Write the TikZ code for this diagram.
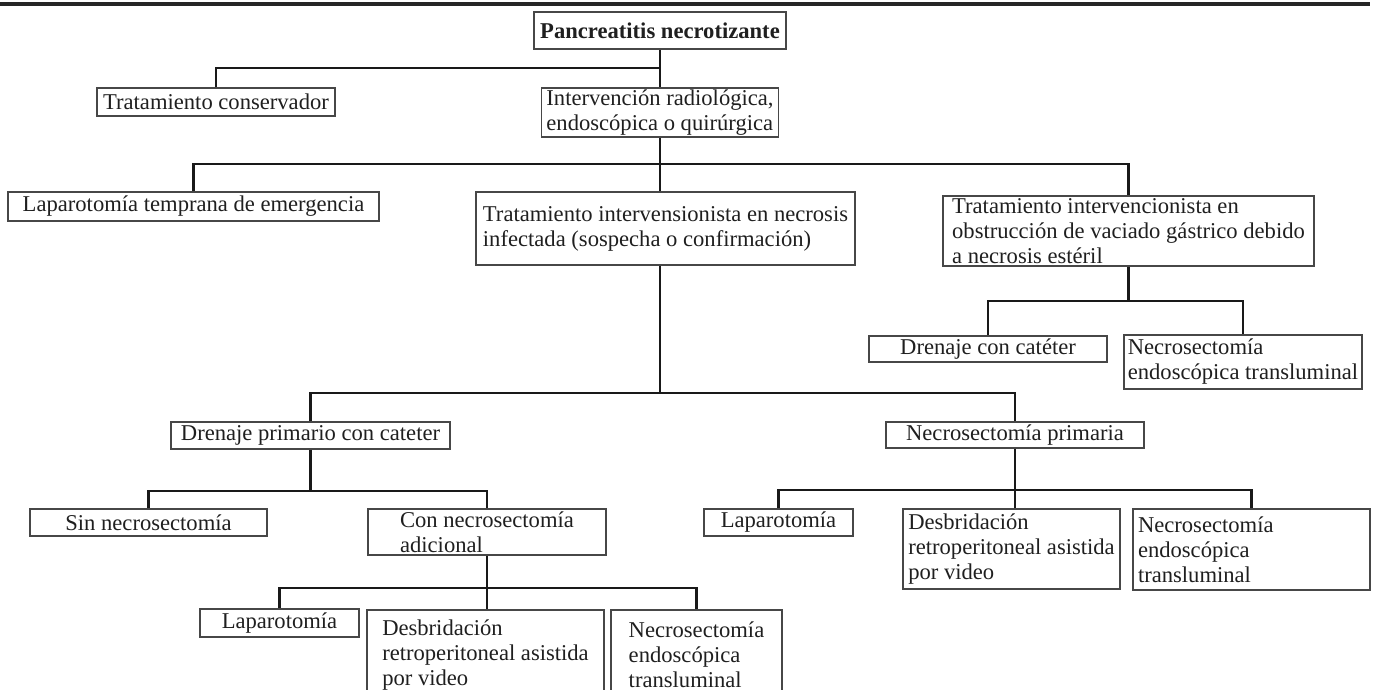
\documentclass[tikz,border=0pt]{standalone}
\usepackage{fontspec}
\setmainfont{Liberation Serif}
\begin{document}
\begin{tikzpicture}[x=1pt,y=-1pt,
  box/.style={draw=black!72, line width=1.1pt, rectangle, inner sep=0pt, align=left,
    font=\fontsize{22.6}{25}\selectfont, text=black!88},
  conn/.style={draw=black!90, line width=2.9pt},
  toprule/.style={draw=black!85, line width=3.5pt}]
\useasboundingbox (0,0) rectangle (1375,690);
\clip (0,0) rectangle (1375,690);
\coordinate (r1) at (0,4);
\coordinate (r2) at (1370,4);
\draw[toprule] (r1) -- (r2);

% nodes
\node[box, minimum width=252pt, minimum height=37pt, font=\fontsize{22.6}{25}\selectfont\bfseries] (pn) at (660,30.5) {Pancreatitis necrotizante};
\node[box, minimum width=238pt, minimum height=28pt] (tc) at (216,102) {Tratamiento conservador};
\node[box, minimum width=237pt, minimum height=49pt] (ir) at (660,112.5) {Intervención radiológica,\\endoscópica o quirúrgica};
\node[box, minimum width=371pt, minimum height=29pt] (lt) at (193.5,206.5) {Laparotomía temprana de emergencia};
\node[box, minimum width=379pt, minimum height=73pt] (ti) at (665.5,228.5) {Tratamiento intervensionista en necrosis\\infectada (sospecha o confirmación)};
\node[box, minimum width=371pt, minimum height=70pt] (to) at (1128.5,231) {Tratamiento intervencionista en\\obstrucción de vaciado gástrico debido\\a necrosis estéril};
\node[box, minimum width=238pt, minimum height=26pt] (dc) at (988,349) {Drenaje con catéter};
\node[box, minimum width=238pt, minimum height=54pt] (ne1) at (1243,362) {Necrosectomía\\endoscópica transluminal};
\node[box, minimum width=279pt, minimum height=27pt] (dp) at (310.5,435.5) {Drenaje primario con cateter};
\node[box, minimum width=258pt, minimum height=26pt] (np) at (1015,435) {Necrosectomía primaria};
\node[box, minimum width=237pt, minimum height=27pt] (sn) at (148.5,522.5) {Sin necrosectomía};
\node[box, minimum width=238pt, minimum height=46pt] (cn) at (487,532) {Con necrosectomía\\adicional};
\node[box, minimum width=159pt, minimum height=28pt] (l1) at (279.5,623) {Laparotomía};
\node[box, minimum width=237pt, minimum height=90pt] (d1) at (485.5,655) {Desbridación\\retroperitoneal asistida\\por video};
\node[box, minimum width=171pt, minimum height=90pt] (ne2) at (696.5,655) {Necrosectomía\\endoscópica\\transluminal};
\node[box, minimum width=149pt, minimum height=27pt] (l2) at (778.5,522.5) {Laparotomía};
\node[box, minimum width=217pt, minimum height=80pt] (d2) at (1011.5,549) {Desbridación\\retroperitoneal asistida\\por video};
\node[box, minimum width=237pt, minimum height=81pt, text width=227pt] (ne3) at (1251.5,549.5) {Necrosectomía\\endoscópica\\transluminal};

% junctions
\coordinate (j1) at (660,68);
\coordinate (j2) at (660,164);
\coordinate (j3) at (660,393);
\coordinate (j4) at (310.5,491);
\coordinate (j5) at (487,588);
\coordinate (j6) at (1015,490);
\coordinate (j7) at (1128.5,301);

% connectors
\draw[conn] (pn.south) -- (ir.north);
\draw[conn] (tc.north) |- (j1);
\draw[conn] (ir.south) -- (j2 |- ti.north);
\draw[conn] (lt.north) |- (j2) -| (to.north);
\draw[conn] (j2 |- ti.south) -- (j3);
\draw[conn] (dp.north) |- (j3) -| (np.north);
\draw[conn] (to.south) -- (j7);
\draw[conn] (dc.north) |- (j7) -| (ne1.north);
\draw[conn] (dp.south) -- (j4);
\draw[conn] (sn.north) |- (j4) -| (cn.north);
\draw[conn] (cn.south) -- (cn.south |- d1.north);
\draw[conn] (l1.north) |- (j5) -| (ne2.north);
\draw[conn] (np.south) -- (np.south |- d2.north);
\draw[conn] (l2.north) |- (j6) -| (ne3.north);
\end{tikzpicture}
\end{document}
